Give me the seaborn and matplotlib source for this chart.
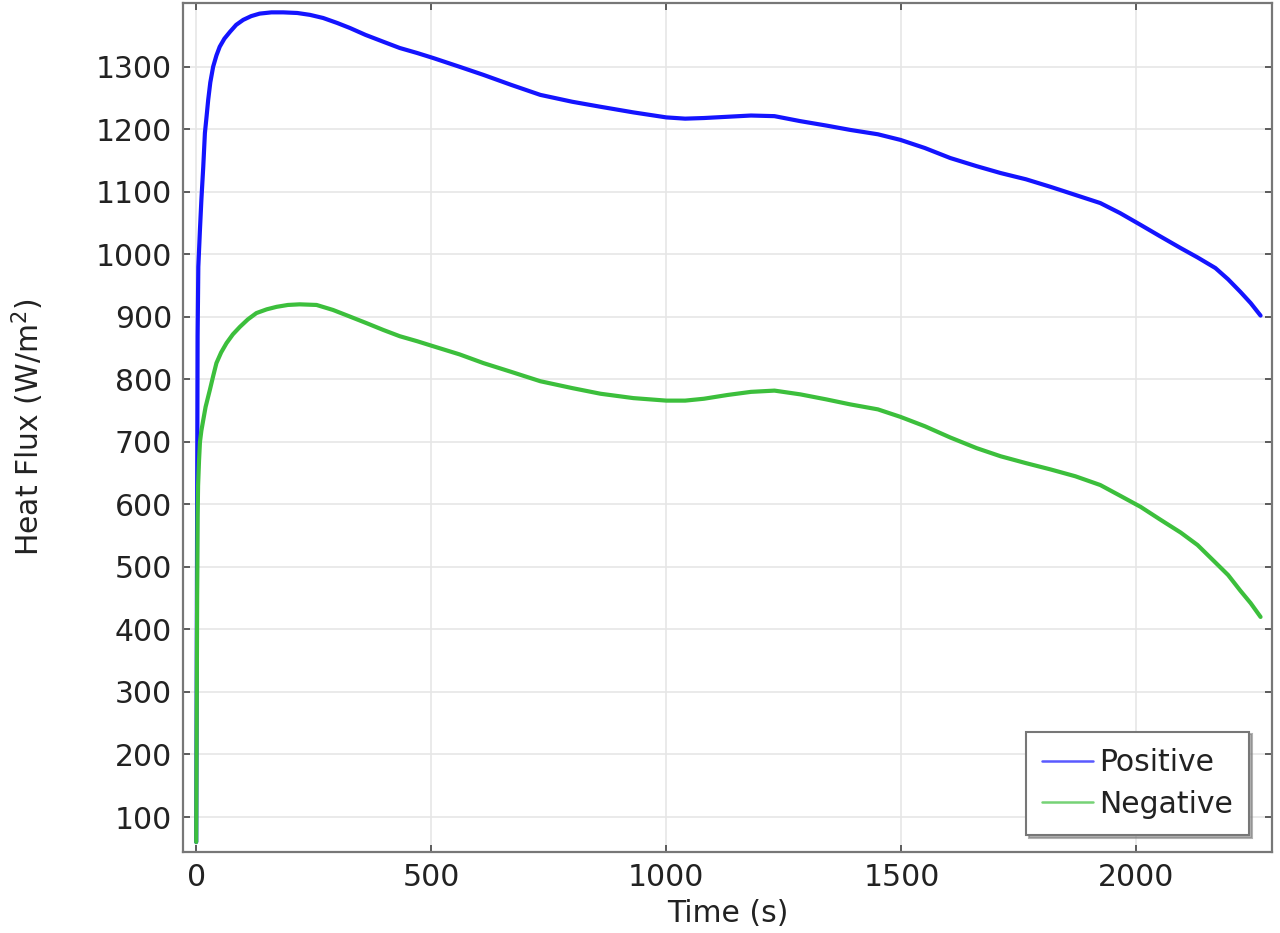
import numpy as np
import pandas as pd
import matplotlib
matplotlib.use("Agg")
import matplotlib.pyplot as plt
import seaborn as sns
from matplotlib.lines import Line2D

# Data
time_pos = [0, 1, 2, 3, 4.5, 8, 11, 15, 18.5, 22, 25.5, 30, 36, 43, 50, 60, 72, 85, 100,
            117, 135, 160, 185, 215, 242, 270, 300, 327, 360, 398, 433, 470, 504, 560,
            611, 670, 732, 800, 860, 930, 1000, 1040, 1080, 1130, 1180, 1230, 1285,
            1340, 1391, 1450, 1498, 1550, 1604, 1660, 1711, 1765, 1817, 1870, 1923,
            1965, 2009, 2050, 2094, 2130, 2168, 2195, 2221, 2243, 2264]
flux_pos = [60, 300, 600, 870, 980, 1040, 1087, 1140, 1194, 1220, 1247, 1275, 1300, 1318,
            1332, 1345, 1356, 1367, 1375, 1381, 1385, 1387, 1387, 1386, 1383, 1378, 1370,
            1362, 1351, 1340, 1330, 1322, 1314, 1300, 1287, 1271, 1255, 1244, 1236, 1227,
            1219, 1217, 1218, 1220, 1222, 1221, 1213, 1206, 1199, 1192, 1183, 1170, 1154,
            1141, 1130, 1120, 1108, 1095, 1082, 1066, 1047, 1029, 1010, 995, 978, 960,
            940, 922, 902]
time_neg = [0, 1, 2, 3, 4, 6, 8, 11, 15, 20, 29, 36, 43, 53, 64.5, 78, 93, 110, 128, 150,
            171, 195, 220, 256, 291, 325, 362, 398, 433, 470, 504, 560, 611, 670, 732,
            800, 860, 930, 1000, 1040, 1080, 1130, 1180, 1230, 1285, 1340, 1391, 1450,
            1498, 1550, 1604, 1660, 1711, 1765, 1817, 1870, 1923, 1965, 2009, 2050, 2094,
            2130, 2168, 2195, 2221, 2243, 2264]
flux_neg = [60, 250, 450, 580, 630, 670, 700, 718, 735, 756, 783, 805, 826, 843, 858, 872,
            884, 896, 906, 912, 916, 919, 920, 919, 911, 901, 890, 879, 869, 861, 853,
            840, 826, 812, 797, 786, 777, 770, 766, 766, 769, 775, 780, 782, 776, 768,
            760, 752, 740, 725, 707, 690, 677, 666, 656, 645, 631, 614, 596, 576, 555,
            535, 507, 487, 462, 442, 420]
series_names = ["Positive", "Negative"]
series_colors = ["#1414ff", "#3cbf3c"]
xticks = [0, 500, 1000, 1500, 2000]
yticks = [100, 200, 300, 400, 500, 600, 700, 800, 900, 1000, 1100, 1200, 1300]

df = pd.concat([
    pd.DataFrame({"Time": time_pos, "Flux": flux_pos, "Series": series_names[0]}),
    pd.DataFrame({"Time": time_neg, "Flux": flux_neg, "Series": series_names[1]}),
], ignore_index=True)

sns.set_theme(style="white")
plt.rcParams["font.family"] = ["DejaVu Sans"]

fig = plt.figure(figsize=(12.8, 9.33), dpi=100)
ax = fig.add_axes([0.143, 0.0868, 0.851, 0.91])

sns.lineplot(data=df, x="Time", y="Flux", hue="Series", hue_order=series_names,
             palette=series_colors, linewidth=3.0, ax=ax, sort=False, legend=False)
for ln in ax.get_lines():
    ln.set_solid_joinstyle("round")
    ln.set_solid_capstyle("round")

ax.set_xlim(-28, 2289)
ax.set_ylim(44, 1402)
ax.set_xticks(xticks)
ax.set_yticks(yticks)
ax.grid(True, color="#e6e6e6", linewidth=1.2)
ax.set_axisbelow(True)
for s in ax.spines.values():
    s.set_color("#777777")
    s.set_linewidth(1.6)
ax.tick_params(axis="both", which="both", direction="in", length=5, width=1.2,
               color="#444444", labelsize=21.5, labelcolor="#222222",
               top=True, right=True, bottom=True, left=True, pad=8)

ax.set_xlabel("Time (s)", fontsize=21.5, color="#222222", labelpad=5)
ax.set_ylabel("Heat Flux (W/m$^2$)", fontsize=21.5, color="#222222", labelpad=36)

handles = [Line2D([0], [0], color=c, linewidth=1.8, alpha=0.7) for c in series_colors]
leg = ax.legend(handles, series_names, loc="lower right", bbox_to_anchor=(0.979, 0.02),
                borderaxespad=0, fontsize=21.5, fancybox=False, frameon=True,
                handlelength=1.7, handletextpad=0.2, labelspacing=0.42,
                borderpad=0.55, shadow={"color": "0.5", "alpha": 0.6})
leg.get_frame().set_edgecolor("#777777")
leg.get_frame().set_linewidth(1.5)
for t in leg.get_texts():
    t.set_color("#222222")

fig.savefig("out.png", dpi=100)
